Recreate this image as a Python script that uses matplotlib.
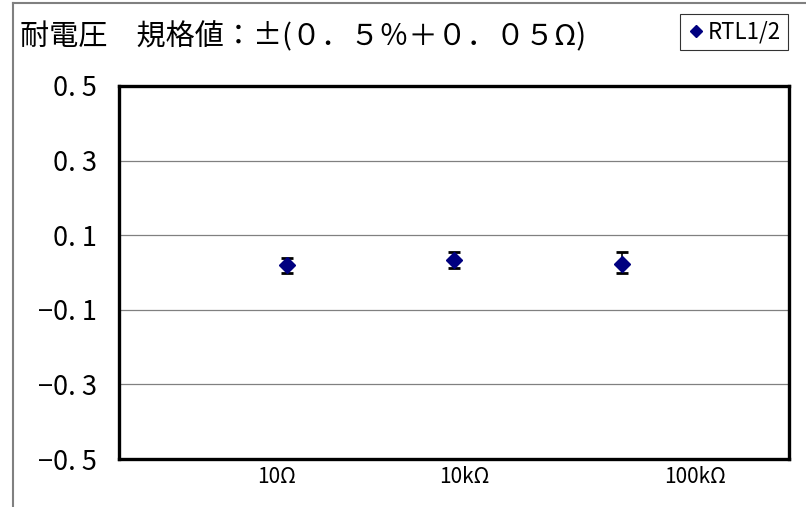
#!/usr/bin/env python3
"""Withstand-voltage test result chart (RTL1/2), recreated with matplotlib."""

import matplotlib
matplotlib.use("Agg")
import matplotlib.pyplot as plt
from matplotlib.lines import Line2D
from matplotlib.ticker import FuncFormatter

plt.rcParams["font.family"] = ["Noto Sans CJK JP", "DejaVu Sans"]

# data
series_name = "RTL1/2"
x_pos = [1, 2, 3]
values = [0.020, 0.033, 0.022]
err_low = [0.021, 0.022, 0.022]
err_high = [0.020, 0.022, 0.034]
tick_labels = ["10Ω", "10kΩ", "100kΩ"]
label_pos = [0.94, 2.06, 3.44]
y_ticks = [-0.5, -0.3, -0.1, 0.1, 0.3, 0.5]
title = "耐電圧　規格値：±(０．５％＋０．０５Ω)"

NAVY = "#000080"


def fmt(v, _pos):
    s = f"{v:.1f}".replace(".", ". ")
    return s.replace("-", "−")


def main() -> None:
    fig = plt.figure(figsize=(8.06, 5.07), dpi=100)
    ax = fig.add_axes([119 / 806, 48 / 507, 670 / 806, 373 / 507])

    ax.errorbar(x_pos, values, yerr=[err_low, err_high], fmt="D", color=NAVY,
                ms=8, ecolor="black", elinewidth=1.2, capsize=4.5, capthick=2,
                zorder=3)

    ax.set_xlim(0, 4)
    ax.set_ylim(-0.5, 0.5)
    ax.set_yticks(y_ticks)
    ax.yaxis.set_major_formatter(FuncFormatter(fmt))
    ax.set_xticks(label_pos)
    ax.set_xticklabels(tick_labels)
    ax.tick_params(axis="x", length=0, labelsize=15, pad=5)
    ax.tick_params(axis="y", length=0, labelsize=19.5, pad=16)
    for y in y_ticks[1:-1]:
        ax.axhline(y, color="#808080", lw=0.9, zorder=1)
    for sp in ax.spines.values():
        sp.set_linewidth(2.4)
        sp.set_color("black")

    fig.text(20 / 806, 1 - 37 / 507, title, fontsize=21, va="center", ha="left")

    handle = Line2D([], [], marker="D", ls="none", color=NAVY, ms=6)
    leg = fig.legend([handle], [series_name], loc="upper right",
                     bbox_to_anchor=(788 / 806, 1 - 14 / 507), fontsize=16,
                     frameon=True, fancybox=False, edgecolor="black",
                     handlelength=0.8, handletextpad=0.15, borderpad=0.3,
                     borderaxespad=0)
    leg.get_frame().set_linewidth(0.8)

    # clipped outer border of the chart area
    fig.add_artist(Line2D([13 / 806, 1], [1 - 3 / 507, 1 - 3 / 507],
                          color="#808080", lw=1.5, transform=fig.transFigure))
    fig.add_artist(Line2D([13 / 806, 13 / 806], [0, 1 - 3 / 507],
                          color="#808080", lw=1.5, transform=fig.transFigure))

    fig.savefig("out.png", dpi=100)
    plt.close(fig)


if __name__ == "__main__":
    main()
